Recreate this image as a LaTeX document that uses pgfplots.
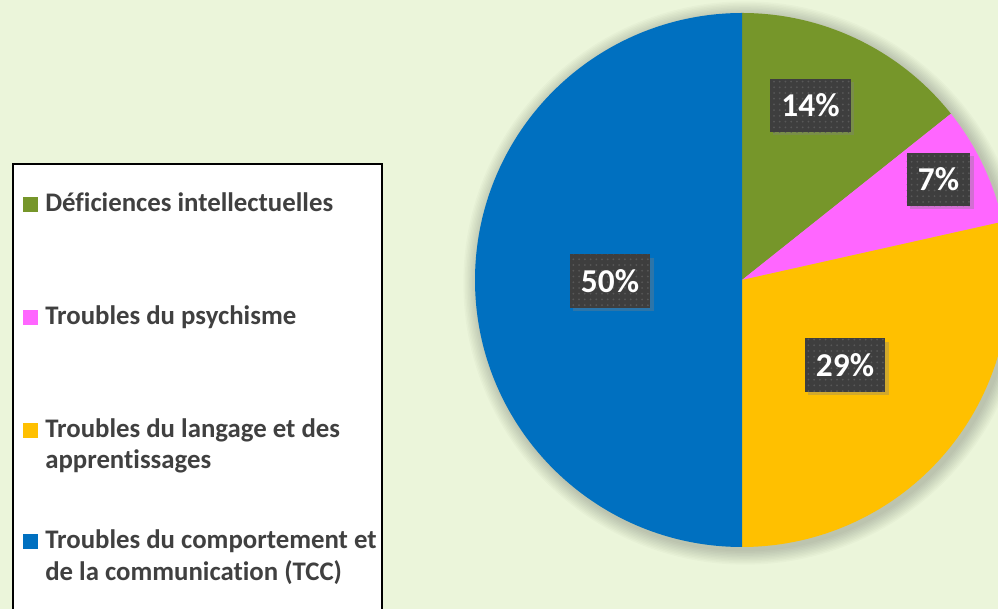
\documentclass[border=0pt]{standalone}
\usepackage{pgfplots}
\pgfplotsset{compat=1.18}
\usepackage{pgfplotstable}
\usepackage{fontspec}
\setmainfont{Carlito}[Ligatures=NoCommon, RawFeature={-liga}]
\usetikzlibrary{patterns.meta,shadows}
\definecolor{bg}{RGB}{235,245,218}
\definecolor{cgreen}{RGB}{118,150,42}
\definecolor{cmag}{RGB}{255,102,255}
\definecolor{cyel}{RGB}{255,192,0}
\definecolor{cblue}{RGB}{0,112,192}
\definecolor{txt}{RGB}{64,64,64}
\definecolor{lbl}{RGB}{62,62,62}
\definecolor{lbldot}{RGB}{88,88,88}

% share (%), shown label, colour, label position (px)
\pgfplotstableread{
value pct color lx ly
14.3 14 cgreen 810.5 503.5
7.2 7 cmag 938.5 429.5
28.5 29 cyel 845 244
50.0 50 cblue 610 328
}\piedata

\newcommand\drawpie{%
  % soft shadow
  \foreach \k in {1,...,10}{%
    \fill[black,opacity=0.018] (axis cs:745,326) circle[radius={200.25pt+\k*1.1pt}];
  }%
  \gdef\cumang{90}%
  \foreach \i in {0,...,3}{%
    \pgfplotstablegetelem{\i}{value}\of\piedata \let\sliceval\pgfplotsretval
    \pgfplotstablegetelem{\i}{color}\of\piedata \let\slicecol\pgfplotsretval
    \pgfmathsetmacro\angA{\cumang}%
    \pgfmathsetmacro\angB{\cumang-3.6*\sliceval}%
    \fill[\slicecol] (axis cs:742,329) -- ++(\angA:200.25pt)
       arc[start angle=\angA, end angle=\angB, radius=200.25pt] -- cycle;
    \xdef\cumang{\angB}%
  }%
  \foreach \i in {0,...,3}{%
    \pgfplotstablegetelem{\i}{pct}\of\piedata \let\sliceval\pgfplotsretval
    \pgfplotstablegetelem{\i}{lx}\of\piedata \let\lx\pgfplotsretval
    \pgfplotstablegetelem{\i}{ly}\of\piedata \let\ly\pgfplotsretval
    \node[fill=lbl, text=white, font=\bfseries\fontsize{25pt}{29pt}\selectfont,
          inner xsep=8.5pt, inner ysep=0pt, minimum height=40pt,
          drop shadow={shadow xshift=2.5pt, shadow yshift=-2.5pt, opacity=0.35},
          postaction={pattern={Dots[distance=4.3pt,radius=0.75pt]}, pattern color=lbldot}]
      at (axis cs:\lx,\ly) {\sliceval\%};
  }%
}

\begin{document}
\begin{tikzpicture}
\path[use as bounding box] (0,0) rectangle (748.5pt,456.75pt);
\clip (0,0) rectangle (748.5pt,456.75pt);
\fill[bg] (0,0) rectangle (748.5pt,456.75pt);
\begin{axis}[at={(0,0)}, anchor=south west, scale only axis,
  width=748.5pt, height=456.75pt, xmin=0, xmax=998, ymin=0, ymax=609,
  hide axis, clip=false]
\pgfplotsextra{\drawpie}
% legend
\fill[white, draw=black, line width=1.5pt] (axis cs:13,-10) rectangle (axis cs:382,445);
\begin{scope}[font=\bfseries\fontsize{20.1pt}{24pt}\selectfont, text=txt]
\fill[cgreen] (axis cs:23,397) rectangle (axis cs:38,412);
\node[anchor=base west, inner sep=0pt] at (axis cs:45,397) {Déficiences intellectuelles};
\fill[cmag] (axis cs:23,284) rectangle (axis cs:38,299);
\node[anchor=base west, inner sep=0pt] at (axis cs:45,284) {Troubles du psychisme};
\fill[cyel] (axis cs:23,171) rectangle (axis cs:38,186);
\node[anchor=base west, inner sep=0pt] at (axis cs:45,171) {Troubles du langage et des};
\node[anchor=base west, inner sep=0pt] at (axis cs:45,140) {apprentissages};
\fill[cblue] (axis cs:23,60) rectangle (axis cs:38,75);
\node[anchor=base west, inner sep=0pt] at (axis cs:45,60) {Troubles du comportement et};
\node[anchor=base west, inner sep=0pt] at (axis cs:45,28) {de la communication (TCC)};
\end{scope}
\end{axis}
\end{tikzpicture}
\end{document}
